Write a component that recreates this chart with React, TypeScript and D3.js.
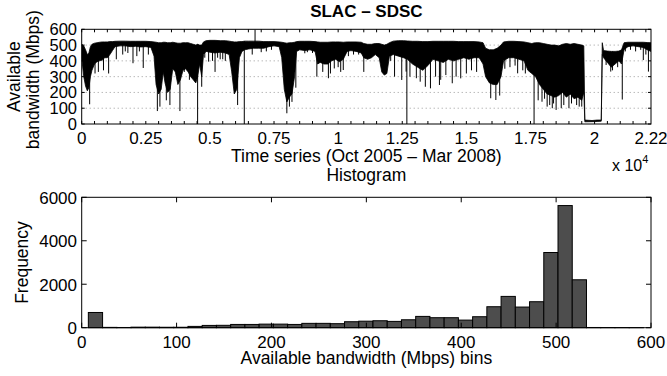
import React from 'react';
import * as d3 from 'd3';

// ---- Time series: dense band envelope ----
const envT = [0,80,150,220,280,340,400,500,600,700,800,900,1000,1100,1200,1300,1500,1700,1900,2100,2300,2500,2700,2820,2900,3000,3100,3180,3250,3350,3450,3550,3650,3750,3850,3950,4050,4150,4250,4350,4450,4520,4600,4680,4750,4850,5000,5200,5400,5600,5750,5850,5950,6050,6150,6250,6350,6500,6700,6900,7100,7300,7500,7700,7800,7900,8000,8100,8200,8300,8380,8500,8700,8900,9100,9200,9300,9450,9600,9750,9900,10050,10200,10350,10500,10700,10900,11000,11150,11300,11450,11600,11700,11800,11900,12000,12150,12350,12550,12700,12900,13100,13300,13500,13700,13900,14100,14300,14500,14700,14900,15100,15300,15500,15650,15750,15900,16050,16200,16350,16450,16650,16850,17050,17250,17400,17550,17700,17850,18000,18150,18300,18450,18600,18750,18900,19050,19200,19350,19500,19580,19620,19900,20100,20260,20300,20350,20500,20650,20800,20950,21050,21150,21300,21500,21700,21900,22050,22200];
const envHigh = [505,495,470,440,450,490,505,512,515,518,520,520,520,522,522,524,525,525,524,524,524,524,522,520,518,515,515,518,518,515,515,518,515,512,512,515,515,515,510,505,500,505,500,500,520,528,530,530,528,528,525,522,520,520,522,522,525,525,525,525,522,522,522,520,518,515,512,515,515,518,522,524,524,524,522,520,518,518,518,520,520,520,518,520,520,520,518,510,505,505,510,510,505,500,505,515,525,528,528,526,524,524,522,522,524,524,524,524,524,522,522,522,522,520,515,480,470,470,480,500,520,524,524,522,520,515,510,515,515,510,505,500,500,495,505,510,505,510,505,500,495,25,22,25,25,515,465,462,460,460,462,470,515,518,518,518,518,516,515];
const envLow = [420,300,240,210,230,300,340,380,395,400,405,420,420,440,465,490,495,495,490,492,488,490,485,430,250,190,220,330,260,200,220,350,330,250,280,340,350,330,300,280,260,300,380,300,440,460,455,450,455,450,440,330,190,220,420,460,470,475,480,480,480,490,495,490,420,220,140,170,190,300,460,470,465,470,460,380,390,380,380,400,410,395,410,460,465,460,450,420,410,420,440,420,330,310,320,430,440,430,420,410,380,360,340,370,410,400,390,410,400,410,420,410,420,420,380,300,260,250,250,300,400,420,420,410,400,340,320,300,250,220,190,180,170,180,200,170,190,160,170,150,200,14,15,16,18,440,420,390,360,380,400,380,470,490,495,490,485,470,460];

// ---- Individual spikes (needles) ----
const spikeT = [310,520,650,850,1050,1350,1600,1700,1800,2000,2150,2250,2400,2600,2950,3050,3300,3440,3830,4000,4200,4520,4680,4800,4950,5100,5200,5300,5400,5500,5600,6080,6340,6650,6760,7000,7200,7400,8000,8100,8200,8350,8700,8800,9000,9170,9400,9620,9700,9850,10000,10100,10200,10400,10600,10800,11000,12050,12200,12480,12650,12680,12800,13050,13200,13400,13600,13800,13950,14000,14200,14450,14600,14780,15000,15200,15400,15950,16150,16300,16500,16700,16900,17000,17200,17300,17640,17800,17950,18050,18150,18250,18350,18400,18500,18700,18800,19000,19100,19300,19400,19500,20450,20630,20700,20900,21080,21200,21400,21600,21800,21900,22000,22100];
const spikeFrom = [450,500,500,510,510,510,510,510,510,510,510,510,510,510,500,500,500,500,500,500,500,505,500,520,520,520,520,520,520,520,520,500,525,510,510,510,510,510,500,500,500,500,510,510,510,510,510,510,510,510,510,510,510,510,510,510,500,510,510,510,510,525,510,510,510,510,510,510,510,510,510,510,510,510,510,510,510,470,470,480,510,510,510,510,510,510,515,500,500,500,500,500,500,500,500,500,500,500,500,500,500,500,460,460,460,460,470,510,510,510,510,510,510,510];
const spikeTo = [125,320,330,340,320,410,440,460,450,385,430,460,355,440,82,110,150,120,82,330,280,0,236,420,395,400,330,420,410,410,400,120,0,440,598,455,460,470,68,110,140,230,448,455,450,300,330,290,320,352,360,330,342,430,440,440,330,400,300,279,332,0,300,290,268,236,226,300,247,280,310,258,300,289,320,340,330,163,152,180,350,360,370,321,340,320,0,150,141,160,110,120,100,130,89,100,120,100,130,120,110,110,374,332,340,360,155,460,470,460,470,405,440,332];

// ---- Histogram ----
const binCenters = [14.5,29.5,44.5,59.5,74.5,89.5,104.5,119.5,134.5,149.5,164.5,179.5,194.5,209.5,224.5,239.5,254.5,269.5,284.5,299.5,314.5,329.5,344.5,359.5,374.5,389.5,404.5,419.5,434.5,449.5,464.5,479.5,494.5,509.5,524.5,539.5,554.5,569.5,584.5];
const binCounts = [700,15,10,25,25,20,20,60,105,110,150,150,165,165,150,200,200,185,275,300,320,290,365,520,460,460,350,505,965,1440,950,1195,3460,5620,2205,10,8,6,4];
const binWidth = 15;

// ---- Axis ticks ----
const tsTickLabels = ['0','0.25','0.5','0.75','1','1.25','1.5','1.75','2','2.22'];
const tsTickValues = [0,2500,5000,7500,10000,12500,15000,17500,20000,22200];
const tsYTicks = [0,100,200,300,400,500,600];
const histXTicks = [0,100,200,300,400,500,600];
const histYTicks = [0,2000,4000,6000];

const FONT = 'Liberation Sans, Arial, Helvetica, sans-serif';

export default function App() {
  const L = 81.7, R = 651;
  const x1 = d3.scaleLinear().domain([0, 22200]).range([L, R]);
  const y1 = d3.scaleLinear().domain([0, 600]).range([124, 29.3]);
  const x2 = d3.scaleLinear().domain([0, 600]).range([L, R]);
  const y2 = d3.scaleLinear().domain([0, 6000]).range([327.7, 197.3]);

  const idx = envT.map((_, i) => i);
  const band = d3.area<number>()
    .x(i => x1(envT[i]))
    .y0(i => y1(envLow[i]))
    .y1(i => y1(envHigh[i]))(idx) || '';

  const minorTicks = d3.range(0, 22201, 500);
  const fs = 17.5;
  const tfs = 16.5;

  return (
    <svg width={667} height={376} style={{ position: 'absolute', left: 0, top: 0, background: '#fff' }}
      fontFamily={FONT}>
      <rect x={0} y={0} width={667} height={376} fill="#fff" />
      <defs>
        <clipPath id="clipTop"><rect x={L} y={29.3} width={R - L} height={124 - 29.3} /></clipPath>
      </defs>
      {/* Title */}
      <text x={(L + R) / 2} y={17} textAnchor="middle" fontWeight="bold" fontSize={17}>SLAC – SDSC</text>

      {/* top grid */}
      {tsYTicks.filter(v => v > 0 && v < 600).map(v => (
        <line key={'g' + v} x1={L} x2={R} y1={y1(v)} y2={y1(v)} stroke="#999" strokeWidth={1} strokeDasharray="1,3" />
      ))}

      {/* time series */}
      <g clipPath="url(#clipTop)">
        <path d={band} fill="#000" stroke="#000" strokeWidth={0.8} />
        {spikeT.map((t, i) => (
          <line key={'s' + i} x1={x1(t)} x2={x1(t)} y1={y1(spikeFrom[i])} y2={y1(spikeTo[i])} stroke="#000" strokeWidth={1} />
        ))}
      </g>

      {/* top axes box and ticks */}
      <rect x={L} y={29.3} width={R - L} height={124 - 29.3} fill="none" stroke="#000" strokeWidth={1} />
      {minorTicks.map(t => (
        <g key={'mt' + t}>
          <line x1={x1(t)} x2={x1(t)} y1={124} y2={121} stroke="#000" />
          <line x1={x1(t)} x2={x1(t)} y1={29.3} y2={32.3} stroke="#000" />
        </g>
      ))}
      {tsYTicks.map(v => (
        <g key={'yt' + v}>
          <line x1={L} x2={L + 3} y1={y1(v)} y2={y1(v)} stroke="#000" />
          <line x1={R} x2={R - 3} y1={y1(v)} y2={y1(v)} stroke="#000" />
          <text x={77} y={y1(v) + 6} textAnchor="end" fontSize={tfs}>{v}</text>
        </g>
      ))}
      {tsTickValues.map((t, i) => (
        <text key={'xl' + t} x={x1(t)} y={143.5} textAnchor="middle" fontSize={tfs + 0.5}>{tsTickLabels[i]}</text>
      ))}
      <text x={(L + R) / 2} y={161.5} textAnchor="middle" fontSize={fs}>Time series (Oct 2005 – Mar 2008)</text>
      <text x={612} y={171} fontSize={16}>x 10<tspan dy={-8} fontSize={11}>4</tspan></text>
      <text transform={`translate(19.5, ${(29.3 + 124) / 2}) rotate(-90)`} textAnchor="middle" fontSize={fs}>Available</text>
      <text transform={`translate(38.5, ${(29.3 + 124) / 2 + 3}) rotate(-90)`} textAnchor="middle" fontSize={fs}>bandwidth (Mbps)</text>

      {/* Histogram */}
      <text x={(L + R) / 2} y={181} textAnchor="middle" fontSize={fs}>Histogram</text>
      {binCenters.map((c, i) => (
        <rect key={'b' + i} x={x2(c - binWidth / 2)} y={y2(binCounts[i])}
          width={x2(c + binWidth / 2) - x2(c - binWidth / 2)} height={y2(0) - y2(binCounts[i])}
          fill="#4d4d4d" stroke="#000" strokeWidth={1} />
      ))}
      <rect x={L} y={197.3} width={R - L} height={327.7 - 197.3} fill="none" stroke="#000" strokeWidth={1} />
      {histXTicks.map(v => (
        <g key={'hx' + v}>
          <line x1={x2(v)} x2={x2(v)} y1={327.7} y2={322.7} stroke="#000" />
          <line x1={x2(v)} x2={x2(v)} y1={197.3} y2={202.3} stroke="#000" />
          <text x={x2(v)} y={347.5} textAnchor="middle" fontSize={tfs + 0.5}>{v}</text>
        </g>
      ))}
      {histYTicks.map(v => (
        <g key={'hy' + v}>
          <line x1={L} x2={L + 5} y1={y2(v)} y2={y2(v)} stroke="#000" />
          <line x1={R} x2={R - 5} y1={y2(v)} y2={y2(v)} stroke="#000" />
          <text x={77} y={y2(v) + 6.5} textAnchor="end" fontSize={tfs + 0.5}>{v}</text>
        </g>
      ))}
      <text x={(L + R) / 2} y={364} textAnchor="middle" fontSize={fs}>Available bandwidth (Mbps) bins</text>
      <text transform={`translate(28, ${(197.3 + 327.7) / 2}) rotate(-90)`} textAnchor="middle" fontSize={fs}>Frequency</text>
    </svg>
  );
}
